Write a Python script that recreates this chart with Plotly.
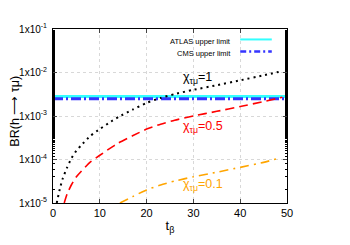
import math
import plotly.graph_objects as go

# ---- data ----
t_chi1 = [0.8, 1.5, 2.1, 3, 4, 5, 6, 8, 10, 12, 14, 17, 20, 23, 26, 30, 35, 40, 45, 49]
br_chi1 = [1.0e-5, 2.2e-5, 3.7e-5, 6.5e-5, 1.1e-4, 1.6e-4, 2.1e-4, 3.5e-4, 5.0e-4, 7.0e-4,
           9.5e-4, 1.4e-3, 2.0e-3, 2.6e-3, 3.2e-3, 4.0e-3, 5.1e-3, 6.6e-3, 8.6e-3, 1.08e-2]

t_chi05 = [2.4, 3, 4, 5, 6, 8, 10, 12, 14, 17, 20, 23, 26, 30, 35, 40, 45, 49]
br_chi05 = [1.0e-5, 1.6e-5, 2.7e-5, 4.0e-5, 5.3e-5, 8.8e-5, 1.25e-4, 1.75e-4, 2.4e-4, 3.5e-4,
            5.0e-4, 6.5e-4, 8.0e-4, 1.0e-3, 1.28e-3, 1.65e-3, 2.15e-3, 2.7e-3]

t_chi01 = [14.3, 17, 20, 23, 26, 30, 35, 40, 45, 48]
br_chi01 = [1.0e-5, 1.4e-5, 2.0e-5, 2.6e-5, 3.2e-5, 4.0e-5, 5.1e-5, 6.6e-5, 8.6e-5, 1.05e-4]

t_limits = [0, 50]
atlas_limit = [2.8e-3, 2.8e-3]
cms_limit = [2.5e-3, 2.5e-3]

x_ticks = [0, 10, 20, 30, 40, 50]
y_tickvals = [1e-5, 1e-4, 1e-3, 1e-2, 1e-1]
y_ticktext = ["1x10<sup>-5</sup>", "1x10<sup>-4</sup>", "1x10<sup>-3</sup>",
              "1x10<sup>-2</sup>", "1x10<sup>-1</sup>"]

labels = ["χ<sub>τμ</sub>=1", "χ<sub>τμ</sub>=0.5", "χ<sub>τμ</sub>=0.1"]
label_t = [27.3, 27.3, 27.3]
label_br = [7.6e-3, 5.7e-4, 2.6e-5]
label_colors = ["black", "#ff0000", "#ffa500"]

legend_names = ["ATLAS upper limit", "CMS upper limit"]

FONT = "Liberation Sans, Arial, sans-serif"

fig = go.Figure()
fig.add_trace(go.Scatter(x=t_limits, y=atlas_limit, mode="lines",
                         line=dict(color="#33ffff", width=3), name=legend_names[0]))
fig.add_trace(go.Scatter(x=t_limits, y=cms_limit, mode="lines",
                         line=dict(color="#3535ff", width=3, dash="10px,3px,2px,3px"),
                         name=legend_names[1]))
fig.add_trace(go.Scatter(x=t_chi1, y=br_chi1, mode="lines", line_shape="spline",
                         line=dict(color="black", width=2, dash="2px,4px", smoothing=0.5)))
fig.add_trace(go.Scatter(x=t_chi05, y=br_chi05, mode="lines", line_shape="spline",
                         line=dict(color="#ff0000", width=1.6, dash="9px,5px", smoothing=0.5)))
fig.add_trace(go.Scatter(x=t_chi01, y=br_chi01, mode="lines", line_shape="spline",
                         line=dict(color="#ffa500", width=1.6, dash="9px,5px,2px,5px",
                                   smoothing=0.5)))

for txt, tx, ty, c in zip(labels, label_t, label_br, label_colors):
    fig.add_annotation(x=tx, y=math.log10(ty), text=txt, showarrow=False,
                       xanchor="left", yanchor="middle",
                       font=dict(family=FONT, size=12.5, color=c))

# custom legend (text left of line sample)
leg_y = [0.93, 0.86]
leg_styles = [dict(color="#33ffff", width=2),
              dict(color="#3535ff", width=2.5, dash="6px,3px,2px,3px")]
for name, yy, st in zip(legend_names, leg_y, leg_styles):
    fig.add_annotation(xref="paper", yref="paper", x=0.77, y=yy, text=name,
                       showarrow=False, xanchor="right", yanchor="middle",
                       font=dict(family=FONT, size=7.5, color="black"))
    fig.add_shape(type="line", xref="paper", yref="paper", x0=0.80, x1=0.935,
                  y0=yy + 0.01, y1=yy + 0.01, line=st)

fig.add_annotation(xref="paper", yref="paper", x=-0.163, y=0.53,
                   text="BR(h ⟶ τμ)", textangle=-90, showarrow=False,
                   xanchor="center", yanchor="middle",
                   font=dict(family=FONT, size=12.5, color="black"))

fig.update_xaxes(range=[0, 50], tickvals=x_ticks, ticks="inside", ticklen=4,
                 showline=True, linecolor="black", linewidth=1, mirror="allticks",
                 showgrid=True, gridcolor="#d8d8d8", griddash="dot", gridwidth=1,
                 zeroline=False,
                 tickfont=dict(family=FONT, size=11, color="black"),
                 title=dict(text="t<sub>β</sub>", font=dict(family=FONT, size=13, color="black"),
                            standoff=2))
fig.update_yaxes(type="log", range=[-5, -1], tickvals=y_tickvals, ticktext=y_ticktext,
                 ticks="inside", ticklen=4, ticklabelstandoff=3,
                 minor=dict(ticks="inside", ticklen=2, showgrid=False, tickcolor="black"),
                 showline=True, linecolor="black", linewidth=1, mirror="allticks",
                 showgrid=True, gridcolor="#d8d8d8", griddash="dot", gridwidth=1,
                 tickfont=dict(family=FONT, size=10, color="black"))

# page body adds an 8px offset; margins compensate so the plot lands where the reference has it
fig.update_layout(width=350, height=245, showlegend=False,
                  margin=dict(l=45, r=71, t=21, b=50),
                  paper_bgcolor="white", plot_bgcolor="white",
                  font=dict(family=FONT))

fig.write_html("out.html")
